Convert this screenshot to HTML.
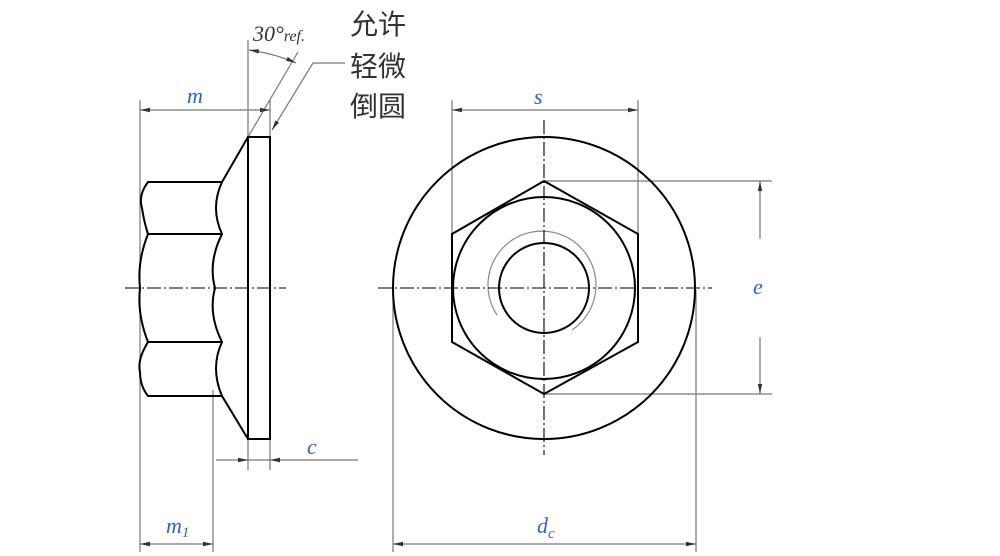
<!DOCTYPE html>
<html><head><meta charset="utf-8"><style>
html,body{margin:0;padding:0;background:#fff;width:1000px;height:556px;overflow:hidden}
</style></head><body>
<svg width="1000" height="556" viewBox="0 0 1000 556" xmlns="http://www.w3.org/2000/svg">
<defs>
<marker id="a" viewBox="0 0 10 6" refX="10" refY="3" markerWidth="10" markerHeight="6" orient="auto-start-reverse" markerUnits="userSpaceOnUse"><path d="M0,0.8 L10,3 L0,5.2 Z" fill="#333"/></marker>
</defs>
<g fill="none" stroke="#777" stroke-width="1.2">
<!-- left view extension lines -->
<line x1="140" y1="100" x2="140" y2="552"/>
<line x1="270" y1="100" x2="270" y2="137"/>
<line x1="248" y1="40" x2="248" y2="137"/>
<line x1="248" y1="439" x2="248" y2="470"/>
<line x1="270" y1="439" x2="270" y2="470"/>
<line x1="213" y1="390" x2="213" y2="552"/>
<line x1="248" y1="137" x2="298" y2="52"/>
<!-- dims -->
<line x1="140" y1="110" x2="270" y2="110" marker-start="url(#a)" marker-end="url(#a)"/>
<line x1="140" y1="544" x2="213" y2="544" marker-start="url(#a)" marker-end="url(#a)"/>
<line x1="216" y1="460" x2="248" y2="460" marker-end="url(#a)"/>
<line x1="358" y1="460" x2="270" y2="460" marker-end="url(#a)"/>
<line x1="248" y1="460" x2="270" y2="460"/>
<path d="M249,50 Q276,54 296,63" marker-start="url(#a)" marker-end="url(#a)"/>
<path d="M345,63 L313,63 L272,130" marker-end="url(#a)"/>
<!-- right view -->
<line x1="452" y1="100" x2="452" y2="290"/>
<line x1="638" y1="100" x2="638" y2="290"/>
<line x1="452" y1="110" x2="638" y2="110" marker-start="url(#a)" marker-end="url(#a)"/>
<line x1="544" y1="181" x2="772" y2="181"/>
<line x1="544" y1="394" x2="772" y2="394"/>
<line x1="760" y1="239" x2="760" y2="181" marker-end="url(#a)"/>
<line x1="760" y1="337" x2="760" y2="394" marker-end="url(#a)"/>
<line x1="393" y1="290" x2="393" y2="552"/>
<line x1="696" y1="290" x2="696" y2="552"/>
<line x1="393" y1="544" x2="696" y2="544" marker-start="url(#a)" marker-end="url(#a)"/>
<path d="M497,315 A54,54 0 1 1 572,330" stroke="#888"/>
</g>
<g fill="none" stroke="#000" stroke-width="1.1" stroke-dasharray="14,3,2,3">
<line x1="125" y1="288" x2="286" y2="288"/>
<line x1="378" y1="288" x2="712" y2="288"/>
<line x1="544" y1="120" x2="544" y2="455"/>
</g>
<g fill="none" stroke="#000" stroke-width="2">
<!-- left view -->
<rect x="248" y="137" width="22" height="302"/>
<path d="M248,137 L222,182 L148,182 Q138,195 142,208 Q144,222 148,234 Q137,262 140,288 Q137,314 148,342 Q137,360 140,372 Q140,386 148,396 L222,396 L248,439"/>
<line x1="148" y1="234" x2="222" y2="234"/>
<line x1="148" y1="342" x2="222" y2="342"/>
<path d="M222,182 Q210,208 222,234 Q208,262 215,288 Q208,314 222,342 Q210,368 222,396"/>
<!-- right view -->
<circle cx="544" cy="288" r="151"/>
<circle cx="544" cy="288" r="91"/>
<circle cx="544" cy="288" r="45"/>
<polygon points="544,181 638,234 638,342 544,394 452,342 452,234"/>
</g>
<g font-family="Liberation Serif, serif" font-style="italic" fill="#2f5fd8" font-size="22">
<text x="187" y="103">m</text>
<text x="166" y="533">m<tspan font-size="15" dy="4">1</tspan></text>
<text x="307" y="454">c</text>
<text x="534" y="104">s</text>
<text x="753" y="294">e</text>
<text x="537" y="533">d<tspan font-size="15" dy="5">c</tspan></text>
</g>
<text x="253" y="41" font-family="Liberation Serif, serif" font-style="italic" font-size="22" fill="#333">30°<tspan font-size="16">ref.</tspan></text>
<g font-family="Liberation Sans, 'Noto Sans CJK SC', sans-serif" font-size="28" fill="#333">
<text x="350" y="34">允许</text>
<text x="350" y="76">轻微</text>
<text x="350" y="116">倒圆</text>
</g>
</svg>
</body></html>
